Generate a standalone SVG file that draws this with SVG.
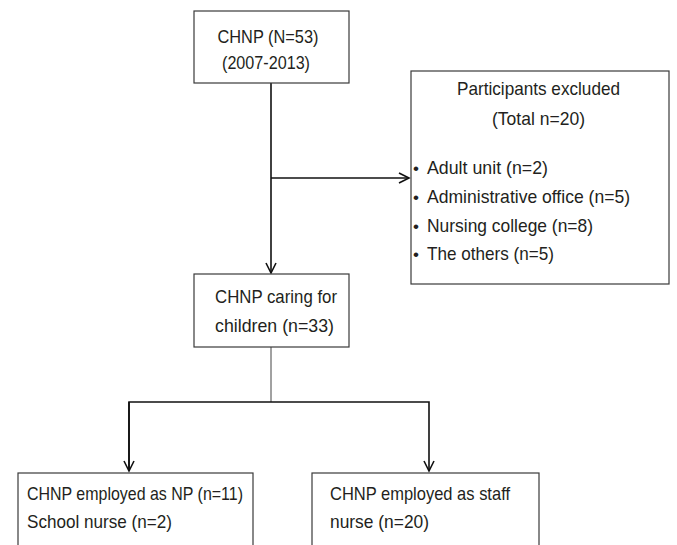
<svg xmlns="http://www.w3.org/2000/svg" width="677" height="545" viewBox="0 0 677 545">
<style>
.box{fill:#fff;stroke:#3a3a3a;stroke-width:1.2}
.t{font-family:"Liberation Sans",Arial,sans-serif;font-size:19px;fill:#231f20}
.c{text-anchor:middle}
.b{font-size:17px}
.con{fill:none;stroke:#111;stroke-width:1.6}
</style>
<defs>
<marker id="arr" viewBox="-12 -7 14 14" refX="0" refY="0" markerWidth="14" markerHeight="14" markerUnits="userSpaceOnUse" orient="auto">
<path d="M-10,-5 L0,0 L-10,5" fill="none" stroke="#111" stroke-width="1.6"/>
</marker>
</defs>
<rect width="677" height="545" fill="#fff"/>
<g id="connectors">
<line class="con" x1="271" y1="83" x2="271" y2="273" marker-end="url(#arr)"/>
<line class="con" x1="271" y1="178" x2="409" y2="178" marker-end="url(#arr)"/>
<line class="con" x1="271" y1="347" x2="271" y2="402" style="stroke-width:1;stroke:#444"/>
<polyline class="con" points="129,471 129,402 429,402 429,471" marker-end="url(#arr)"/>
<line class="con" x1="129" y1="402" x2="129" y2="471" marker-end="url(#arr)"/>
</g>
<g id="chnp">
<rect class="box" x="194" y="11" width="155" height="72"/>
<text class="t c" x="268" y="43" textLength="101" lengthAdjust="spacingAndGlyphs">CHNP (N=53)</text>
<text class="t c" x="266" y="69" textLength="88" lengthAdjust="spacingAndGlyphs">(2007-2013)</text>
</g>
<g id="excluded">
<rect class="box" x="411" y="71" width="258" height="213"/>
<text class="t c" x="538.5" y="95" textLength="163" lengthAdjust="spacingAndGlyphs">Participants excluded</text>
<text class="t c" x="538.5" y="125" textLength="93" lengthAdjust="spacingAndGlyphs">(Total n=20)</text>
<text class="t b" x="413" y="174">•</text>
<text class="t" x="427" y="174" textLength="121" lengthAdjust="spacingAndGlyphs">Adult unit (n=2)</text>
<text class="t b" x="413" y="203">•</text>
<text class="t" x="427" y="203" textLength="203" lengthAdjust="spacingAndGlyphs">Administrative office (n=5)</text>
<text class="t b" x="413" y="232">•</text>
<text class="t" x="427" y="232" textLength="166" lengthAdjust="spacingAndGlyphs">Nursing college (n=8)</text>
<text class="t b" x="413" y="260">•</text>
<text class="t" x="427" y="260" textLength="127" lengthAdjust="spacingAndGlyphs">The others (n=5)</text>
</g>
<g id="caring">
<rect class="box" x="194" y="274" width="155" height="73"/>
<text class="t" x="215" y="303" textLength="122" lengthAdjust="spacingAndGlyphs">CHNP caring for</text>
<text class="t" x="215" y="332" textLength="119" lengthAdjust="spacingAndGlyphs">children (n=33)</text>
</g>
<g id="np">
<rect class="box" x="18" y="473" width="235" height="90"/>
<text class="t" x="27" y="500" textLength="216" lengthAdjust="spacingAndGlyphs">CHNP employed as NP (n=11)</text>
<text class="t" x="27" y="528" textLength="145" lengthAdjust="spacingAndGlyphs">School nurse (n=2)</text>
</g>
<g id="staff">
<rect class="box" x="312" y="473" width="227" height="90"/>
<text class="t" x="330" y="500" textLength="180" lengthAdjust="spacingAndGlyphs">CHNP employed as staff</text>
<text class="t" x="330" y="528" textLength="99" lengthAdjust="spacingAndGlyphs">nurse (n=20)</text>
</g>
</svg>
